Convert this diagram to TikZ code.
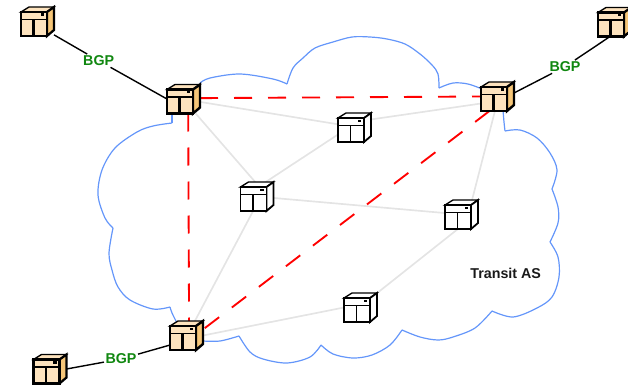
\documentclass[tikz,border=0pt]{standalone}
\usepackage{fontspec}
\setmainfont{Liberation Sans}
\usetikzlibrary{backgrounds}
\definecolor{cloudblue}{RGB}{100,150,250}
\definecolor{linkgrey}{RGB}{228,228,228}
\definecolor{bgpgreen}{RGB}{16,135,16}
\definecolor{boxfront}{RGB}{253,227,190}
\definecolor{boxside}{RGB}{246,198,120}
\tikzset{
  routerbox/.style={rectangle,inner sep=0pt,outer sep=0pt,minimum width=24.75pt,minimum height=21.75pt},
  cloudline/.style={draw=cloudblue,line width=.9pt,line join=round},
  greylink/.style={draw=linkgrey,line width=1.25pt},
  redlink/.style={draw=red,line width=1.4pt,dash pattern=on 13.5pt off 12pt},
  bgplink/.style={draw=black,line width=1.05pt},
  bgplabel/.style={font=\bfseries\fontsize{10.7pt}{12pt}\selectfont,text=bgpgreen,inner sep=1pt},
  aslabel/.style={font=\bfseries\fontsize{10.7pt}{12pt}\selectfont,text=black!90,inner sep=0pt},
  casing/.style={draw=black,line join=miter},
}
% name, centre x, centre y, front colour, side colour, line width
\newcommand{\routerat}[6]{%
  \node[routerbox] (#1) at (#2,#3) {};
  \begin{scope}[shift={(#2-16.5,#3-14.5)},line width=#6]
    \path[casing,fill=#4,line width=1pt] (0,5) -- (8,0) -- (33,0) -- (26,5) -- cycle;
    \path[casing,fill=#5] (26,5) -- (33,0) -- (33,23) -- (26,29) -- cycle;
    \path[casing,fill=#4] (0,5) rectangle (26,29);
    \draw[line width=.85pt] (0,12.5) -- (26,12.5);
    \draw (12.5,12.5) -- (12.5,29);
    \fill[black] (19.5,6.5) rectangle (23,9);
  \end{scope}}
\begin{document}
\begin{tikzpicture}[x=.75pt,y=-.75pt]
\useasboundingbox (0,0) rectangle (628,385);

\routerat{rA}{37.5}{21.5}{boxfront}{boxside}{1.7pt}
\routerat{rB}{183.5}{99}{boxfront}{boxside}{1.8pt}
\routerat{rC}{497.5}{96.5}{boxfront}{boxside}{1.8pt}
\routerat{rD}{614.5}{22}{boxfront}{boxside}{1.7pt}
\routerat{rE}{186.5}{335.5}{boxfront}{boxside}{1.8pt}
\routerat{rF}{50}{369}{boxfront}{boxside}{1.7pt}
\routerat{wA}{354.5}{127.5}{white}{white}{1.35pt}
\routerat{wB}{461.5}{214.5}{white}{white}{1.35pt}
\routerat{wC}{360.5}{307.5}{white}{white}{1.35pt}
\routerat{wD}{257}{196.5}{white}{white}{1.35pt}

\node[bgplabel] (bgpA) at (98.7,60.7) {BGP};
\node[bgplabel] (bgpC) at (565,66.7) {BGP};
\node[bgplabel] (bgpE) at (121,359) {BGP};
\node[aslabel] (transit) at (505.7,273) {Transit AS};

\begin{scope}[on background layer]
  % cloud outline, one arc per lobe
  \draw[cloudline] plot[smooth,tension=.55] coordinates {(200,83) (210,78) (240,74) (273,79) (287,84)};
  \draw[cloudline] plot[smooth,tension=.55] coordinates {(287,84) (293,68) (303,58) (315,48) (333,42) (352,37) (370,37) (387,39) (405,44) (420,54) (432,65) (438,74) (439,88)};
  \draw[cloudline] plot[smooth,tension=.55] coordinates {(439,88) (453,83) (468,84) (482,89)};
  \draw[cloudline] plot[smooth,tension=.55] coordinates {(503,110) (504,122) (505,131)};
  \draw[cloudline] plot[smooth,tension=.55] coordinates {(505,131) (520,130) (537,138) (550,153) (557,170) (552,189)};
  \draw[cloudline] plot[smooth,tension=.55] coordinates {(552,189) (558,207) (558,223) (550,242)};
  \draw[cloudline] plot[smooth,tension=.55] coordinates {(550,242) (558,257) (559,277) (552,297) (537,308) (513,317) (492,311)};
  \draw[cloudline] plot[smooth,tension=.55] coordinates {(492,311) (475,328) (453,337) (438,340) (420,337) (402,330)};
  \draw[cloudline] plot[smooth,tension=.55] coordinates {(402,330) (390,345) (372,355) (353,358) (333,354) (321,345)};
  \draw[cloudline] plot[smooth,tension=.55] coordinates {(321,345) (310,357) (287,363) (263,359) (250,352) (239,336)};
  \draw[cloudline] plot[smooth,tension=.55] coordinates {(239,336) (220,341) (203,341)};
  \draw[cloudline] plot[smooth,tension=.55] coordinates {(177,323) (172,313) (170,307)};
  \draw[cloudline] plot[smooth,tension=.55] coordinates {(170,307) (153,309) (130,300) (118,287) (112,270) (109,253) (113,228)};
  \draw[cloudline] plot[smooth,tension=.55] coordinates {(113,228) (105,218) (98,195) (102,170) (115,148) (137,132) (153,126) (172,123)};
  \draw[cloudline] (172,123) -- (172,112);

  % interior links
  \draw[greylink] (rB.-10) -- (wA.169);
  \draw[greylink] (wA.26) -- (rC.203);
  \draw[greylink] (rB.-50) -- (wD.97);
  \draw[greylink] (wA.203) -- (wD.59);
  \draw[greylink] (wD.-5) -- (wB.175);
  \draw[greylink] (wD.-105) -- (rE.60);
  \draw[greylink] (wB.54) -- (rC.-100);
  \draw[greylink] (wB.-104) -- (wC.41);
  \draw[greylink] (wC.180) -- (rE.0);

  % iBGP mesh
  \draw[redlink] (rB.3) -- (rC.180);
  \draw[redlink] (rB.-72) -- (rE.80);
  \draw[redlink] (rC.-119) -- (rE.20);

  % eBGP sessions
  \draw[bgplink] (rA.-39) -- (bgpA);
  \draw[bgplink] (bgpA) -- (rB.180);
  \draw[bgplink] (rC.12) -- (bgpC);
  \draw[bgplink] (bgpC) -- (rD.-107);
  \draw[bgplink] (rE.210) -- (bgpE);
  \draw[bgplink] (bgpE) -- (rF.0);
\end{scope}
\end{tikzpicture}
\end{document}
